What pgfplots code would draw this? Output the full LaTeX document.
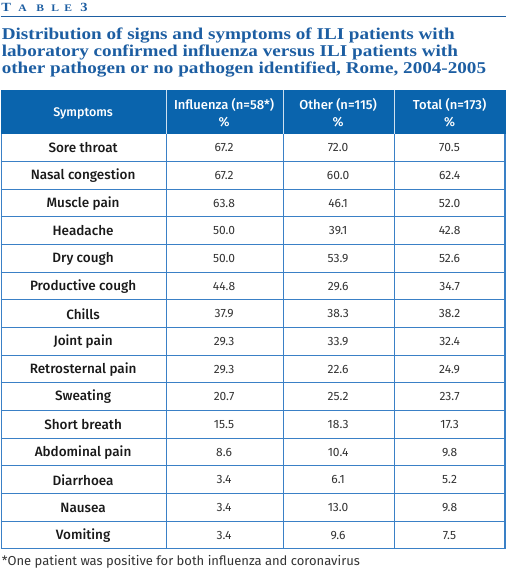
\documentclass[border=0pt]{standalone}
\usepackage{pgfplots}
\usepackage{pgfplotstable}
\pgfplotsset{compat=1.18}
\usepackage{fontspec}
\setmainfont{Liberation Serif}
\newfontfamily\titlefont[FakeStretch=1.16]{Liberation Serif}
\newfontfamily\tabfont[BoldFont={Fira Sans Medium}]{Fira Sans}
\definecolor{hdrblue}{HTML}{0A64AD}
\definecolor{gridblue}{HTML}{3A80C6}
\definecolor{titleblue}{HTML}{1D5EA2}
\definecolor{numgray}{HTML}{333333}

\pgfplotstableread[col sep=comma]{
sym,flu,oth,tot
Sore throat,67.2,72.0,70.5
Nasal congestion,67.2,60.0,62.4
Muscle pain,63.8,46.1,52.0
Headache,50.0,39.1,42.8
Dry cough,50.0,53.9,52.6
Productive cough,44.8,29.6,34.7
Chills,37.9,38.3,38.2
Joint pain,29.3,33.9,32.4
Retrosternal pain,29.3,22.6,24.9
Sweating,20.7,25.2,23.7
Short breath,15.5,18.3,17.3
Abdominal pain,8.6,10.4,9.8
Diarrhoea,3.4,6.1,5.2
Nausea,3.4,13.0,9.8
Vomiting,3.4,9.6,7.5
}\tabledata

\begin{document}
\begin{tikzpicture}
\begin{axis}[
  scale only axis, width=505bp, height=571bp,
  xmin=0, xmax=505, ymin=0, ymax=571, y dir=reverse,
  axis lines=none, clip=false,
  every node near coord/.append style={anchor=center},
]
\path (axis cs:0,0) rectangle (axis cs:505,571);
% title block
\node[anchor=base west, inner sep=0pt, text=titleblue, font=\titlefont\bfseries\fontsize{12.5bp}{14bp}\selectfont] at (axis cs:0.5,12) {T};
\node[anchor=base west, inner sep=0pt, text=titleblue, font=\titlefont\bfseries\fontsize{10bp}{12bp}\selectfont] at (axis cs:17.5,12) {A};
\node[anchor=base west, inner sep=0pt, text=titleblue, font=\titlefont\bfseries\fontsize{10bp}{12bp}\selectfont] at (axis cs:35.5,12) {B};
\node[anchor=base west, inner sep=0pt, text=titleblue, font=\titlefont\bfseries\fontsize{10bp}{12bp}\selectfont] at (axis cs:50.5,12) {L};
\node[anchor=base west, inner sep=0pt, text=titleblue, font=\titlefont\bfseries\fontsize{10bp}{12bp}\selectfont] at (axis cs:63.5,12) {E};
\node[anchor=base west, inner sep=0pt, text=titleblue, font=\titlefont\bfseries\fontsize{12.5bp}{14bp}\selectfont] at (axis cs:79.5,12) {3};
\draw[titleblue, line width=1bp] (axis cs:0,16.5) -- (axis cs:505,16.5);
\node[anchor=base west, inner sep=0pt, text=titleblue, font=\titlefont\fontsize{16.5bp}{18bp}\selectfont\bfseries] at (axis cs:1,40) {Distribution of signs and symptoms of ILI patients with};
\node[anchor=base west, inner sep=0pt, text=titleblue, font=\titlefont\fontsize{16.5bp}{18bp}\selectfont\bfseries] at (axis cs:1,57) {laboratory confirmed influenza versus ILI patients with};
\node[anchor=base west, inner sep=0pt, text=titleblue, font=\titlefont\fontsize{16.5bp}{18bp}\selectfont\bfseries] at (axis cs:1,74) {other pathogen or no pathogen identified, Rome, 2004-2005};
% header
\fill[hdrblue] (axis cs:0,90) rectangle (axis cs:505,134);
\pgfplotsinvokeforeach{165.5,282.5,393.5}{
  \draw[white!80!hdrblue, line width=1.2bp] (axis cs:#1,90) -- (axis cs:#1,134);
  \draw[gridblue, line width=1.2bp] (axis cs:#1,134) -- (axis cs:#1,549);
}
\draw[gridblue, line width=1.2bp] (axis cs:0.6,134) -- (axis cs:0.6,549);
\draw[gridblue, line width=1.2bp] (axis cs:504.4,134) -- (axis cs:504.4,549);
\pgfplotsinvokeforeach{161.5,189.5,216.5,244.5,272.5,299.5,327.5,355.5,382.5,410.5,438.5,465.5,493.5,521.5,548.5}{
  \draw[gridblue, line width=1.2bp] (axis cs:0,#1) -- (axis cs:505,#1);
}
\node[text=white, font=\tabfont\bfseries\fontsize{12.5bp}{15bp}\selectfont] at (axis cs:82.5,113) {Symptoms};
\node[text=white, font=\tabfont\bfseries\fontsize{13bp}{15bp}\selectfont, anchor=base] at (axis cs:223.5,109) {Influenza (n=58*)};
\node[text=white, font=\tabfont\bfseries\fontsize{13bp}{15bp}\selectfont, anchor=base] at (axis cs:223.5,126) {\%};
\node[text=white, font=\tabfont\bfseries\fontsize{13bp}{15bp}\selectfont, anchor=base] at (axis cs:337.5,109) {Other (n=115)};
\node[text=white, font=\tabfont\bfseries\fontsize{13bp}{15bp}\selectfont, anchor=base] at (axis cs:337.5,126) {\%};
\node[text=white, font=\tabfont\bfseries\fontsize{13bp}{15bp}\selectfont, anchor=base] at (axis cs:449,109) {Total (n=173)};
\node[text=white, font=\tabfont\bfseries\fontsize{13bp}{15bp}\selectfont, anchor=base] at (axis cs:449,126) {\%};
% body
\addplot[draw=none, mark=none, nodes near coords, point meta=explicit symbolic,
  every node near coord/.append style={anchor=center, text=black!90, font=\tabfont\bfseries\fontsize{13.5bp}{15bp}\selectfont}]
  table[x expr=82.5, y expr={134+27.667*(\coordindex+0.5)}, meta=sym] {\tabledata};
\addplot[draw=none, mark=none, nodes near coords, point meta=explicit symbolic,
  every node near coord/.append style={anchor=center, text=numgray, font=\tabfont\fontsize{12bp}{15bp}\selectfont}]
  table[x expr=223.5, y expr={134+27.667*(\coordindex+0.5)}, meta=flu] {\tabledata};
\addplot[draw=none, mark=none, nodes near coords, point meta=explicit symbolic,
  every node near coord/.append style={anchor=center, text=numgray, font=\tabfont\fontsize{12bp}{15bp}\selectfont}]
  table[x expr=337.5, y expr={134+27.667*(\coordindex+0.5)}, meta=oth] {\tabledata};
\addplot[draw=none, mark=none, nodes near coords, point meta=explicit symbolic,
  every node near coord/.append style={anchor=center, text=numgray, font=\tabfont\fontsize{12bp}{15bp}\selectfont}]
  table[x expr=449, y expr={134+27.667*(\coordindex+0.5)}, meta=tot] {\tabledata};
% footnote
\node[anchor=base west, inner sep=0pt, text=numgray, font=\tabfont\fontsize{13bp}{14bp}\selectfont] at (axis cs:1,565) {*One patient was positive for both influenza and coronavirus};
\end{axis}
\end{tikzpicture}
\end{document}
